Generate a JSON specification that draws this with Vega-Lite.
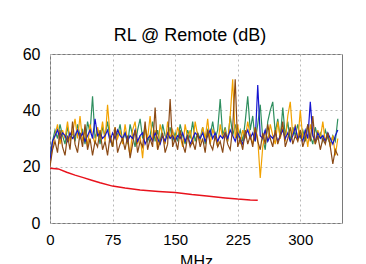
{
  "$schema": "https://vega.github.io/schema/vega-lite/v6.json",
  "width": 292,
  "height": 169,
  "autosize": "none",
  "padding": {"left": 50, "top": 54, "right": 24, "bottom": 41},
  "background": "white",
  "title": {
    "text": "RL @ Remote (dB)",
    "anchor": "middle",
    "dx": -6,
    "dy": 24,
    "offset": 11,
    "baseline": "alphabetic",
    "font": "Liberation Sans",
    "fontSize": 18,
    "fontWeight": "normal",
    "color": "black"
  },
  "datasets": {
    "noisy": [
      {"f":0,"g":24,"o":21,"b":22,"n":20},{"f":3,"g":29,"o":27,"b":29,"n":26},{"f":6,"g":33,"o":31,"b":31,"n":29},{"f":9,"g":30,"o":35,"b":33,"n":25},{"f":12,"g":35,"o":28,"b":30,"n":33},
      {"f":15,"g":31,"o":33,"b":32,"n":27},{"f":18,"g":28,"o":30,"b":31,"n":24},{"f":21,"g":34,"o":36,"b":29,"n":31},{"f":24,"g":30,"o":29,"b":32,"n":26},{"f":27,"g":32,"o":32,"b":30,"n":36},
      {"f":30,"g":29,"o":37,"b":31,"n":28},{"f":33,"g":35,"o":30,"b":33,"n":25},{"f":36,"g":31,"o":38,"b":30,"n":32},{"f":39,"g":33,"o":29,"b":32,"n":27},{"f":42,"g":28,"o":33,"b":29,"n":35},
      {"f":45,"g":36,"o":27,"b":31,"n":26},{"f":48,"g":32,"o":35,"b":33,"n":30},{"f":51,"g":45,"o":31,"b":30,"n":24},{"f":54,"g":30,"o":28,"b":37,"n":29},{"f":57,"g":33,"o":34,"b":31,"n":27},
      {"f":60,"g":28,"o":30,"b":32,"n":33},{"f":63,"g":34,"o":36,"b":30,"n":26},{"f":66,"g":31,"o":29,"b":31,"n":29},{"f":69,"g":36,"o":42,"b":33,"n":24},{"f":72,"g":30,"o":31,"b":29,"n":31},
      {"f":75,"g":27,"o":27,"b":32,"n":27},{"f":78,"g":33,"o":34,"b":30,"n":34},{"f":81,"g":31,"o":30,"b":33,"n":25},{"f":84,"g":35,"o":33,"b":31,"n":28},{"f":87,"g":29,"o":28,"b":30,"n":30},
      {"f":90,"g":32,"o":35,"b":32,"n":26},{"f":93,"g":28,"o":29,"b":29,"n":31},{"f":96,"g":35,"o":24,"b":31,"n":23},{"f":99,"g":31,"o":33,"b":30,"n":28},{"f":102,"g":27,"o":36,"b":33,"n":33},
      {"f":105,"g":33,"o":28,"b":29,"n":25},{"f":108,"g":37,"o":31,"b":31,"n":29},{"f":111,"g":30,"o":23,"b":32,"n":27},{"f":114,"g":34,"o":34,"b":28,"n":36},{"f":117,"g":29,"o":30,"b":30,"n":26},
      {"f":120,"g":31,"o":38,"b":31,"n":30},{"f":123,"g":36,"o":29,"b":29,"n":27},{"f":126,"g":29,"o":33,"b":32,"n":41},{"f":129,"g":33,"o":26,"b":30,"n":26},{"f":132,"g":28,"o":35,"b":28,"n":29},
      {"f":135,"g":35,"o":31,"b":31,"n":32},{"f":138,"g":31,"o":28,"b":29,"n":25},{"f":141,"g":30,"o":36,"b":32,"n":28},{"f":144,"g":34,"o":30,"b":30,"n":44},{"f":147,"g":29,"o":33,"b":31,"n":27},
      {"f":150,"g":32,"o":29,"b":29,"n":30},{"f":153,"g":29,"o":34,"b":31,"n":26},{"f":156,"g":35,"o":31,"b":30,"n":33},{"f":159,"g":31,"o":27,"b":32,"n":28},{"f":162,"g":28,"o":35,"b":29,"n":25},
      {"f":165,"g":33,"o":30,"b":31,"n":31},{"f":168,"g":30,"o":33,"b":28,"n":27},{"f":171,"g":36,"o":28,"b":30,"n":29},{"f":174,"g":29,"o":36,"b":32,"n":26},{"f":177,"g":32,"o":31,"b":31,"n":32},
      {"f":180,"g":30,"o":29,"b":30,"n":27},{"f":183,"g":34,"o":34,"b":32,"n":30},{"f":186,"g":28,"o":30,"b":29,"n":25},{"f":189,"g":33,"o":37,"b":31,"n":33},{"f":192,"g":31,"o":28,"b":33,"n":28},
      {"f":195,"g":36,"o":33,"b":30,"n":26},{"f":198,"g":30,"o":31,"b":32,"n":31},{"f":201,"g":33,"o":27,"b":29,"n":27},{"f":204,"g":44,"o":35,"b":31,"n":29},{"f":207,"g":31,"o":30,"b":30,"n":25},
      {"f":210,"g":34,"o":33,"b":32,"n":32},{"f":213,"g":29,"o":29,"b":30,"n":28},{"f":216,"g":38,"o":38,"b":33,"n":26},{"f":219,"g":31,"o":51,"b":31,"n":34},{"f":222,"g":35,"o":30,"b":29,"n":51},
      {"f":225,"g":30,"o":35,"b":32,"n":27},{"f":228,"g":33,"o":28,"b":30,"n":30},{"f":231,"g":29,"o":33,"b":28,"n":26},{"f":234,"g":36,"o":30,"b":31,"n":33},{"f":237,"g":45,"o":36,"b":33,"n":28},
      {"f":240,"g":33,"o":31,"b":30,"n":31},{"f":243,"g":38,"o":28,"b":32,"n":27},{"f":246,"g":29,"o":34,"b":29,"n":34},{"f":249,"g":35,"o":30,"b":49,"n":29},{"f":252,"g":42,"o":16,"b":31,"n":26},
      {"f":255,"g":30,"o":27,"b":30,"n":32},{"f":258,"g":26,"o":33,"b":33,"n":28},{"f":261,"g":36,"o":29,"b":29,"n":35},{"f":264,"g":40,"o":35,"b":31,"n":30},{"f":267,"g":43,"o":31,"b":30,"n":27},
      {"f":270,"g":32,"o":28,"b":32,"n":33},{"f":273,"g":37,"o":36,"b":29,"n":28},{"f":276,"g":30,"o":30,"b":31,"n":31},{"f":279,"g":41,"o":34,"b":33,"n":36},{"f":282,"g":31,"o":29,"b":30,"n":27},
      {"f":285,"g":36,"o":38,"b":32,"n":30},{"f":288,"g":29,"o":43,"b":29,"n":34},{"f":291,"g":34,"o":31,"b":31,"n":28},{"f":294,"g":31,"o":35,"b":34,"n":31},{"f":297,"g":35,"o":29,"b":30,"n":29},
      {"f":300,"g":30,"o":40,"b":31,"n":33},{"f":303,"g":33,"o":30,"b":29,"n":27},{"f":306,"g":29,"o":33,"b":33,"n":30},{"f":309,"g":35,"o":27,"b":30,"n":35},{"f":312,"g":31,"o":35,"b":43,"n":29},
      {"f":315,"g":28,"o":31,"b":31,"n":38},{"f":318,"g":34,"o":28,"b":29,"n":28},{"f":321,"g":30,"o":33,"b":32,"n":31},{"f":324,"g":32,"o":30,"b":30,"n":26},{"f":327,"g":29,"o":36,"b":31,"n":30},
      {"f":330,"g":33,"o":29,"b":29,"n":28},{"f":333,"g":30,"o":32,"b":32,"n":32},{"f":336,"g":28,"o":27,"b":30,"n":27},{"f":339,"g":31,"o":31,"b":28,"n":21},{"f":342,"g":29,"o":24,"b":31,"n":26},
      {"f":345,"g":37,"o":30,"b":33,"n":24}
    ],
    "limit": [
      {"f":0,"v":19.4},{"f":10,"v":19.2},{"f":20,"v":18.0},{"f":30,"v":17.0},{"f":40,"v":16.1},{"f":50,"v":15.2},
      {"f":60,"v":14.3},{"f":75,"v":13.1},{"f":90,"v":12.4},{"f":108,"v":11.7},{"f":130,"v":11.2},{"f":150,"v":10.8},
      {"f":170,"v":10.1},{"f":188,"v":9.6},{"f":210,"v":8.9},{"f":225,"v":8.5},{"f":240,"v":8.2},{"f":249,"v":8.1}
    ]
  },
  "layer": [
    {
      "data": {"name": "noisy"},
      "transform": [{"fold": ["g", "o", "b", "n"], "as": ["s", "v"]}],
      "mark": {"type": "line", "strokeWidth": 1.2, "clip": true},
      "encoding": {
        "x": {"field": "f", "type": "quantitative", "scale": {"domain": [0, 350], "nice": false}, "title": "MHz",
              "axis": {"values": [0, 75, 150, 225, 300]}},
        "y": {"field": "v", "type": "quantitative", "scale": {"domain": [0, 60], "nice": false}, "title": null,
              "axis": {"values": [0, 10, 20, 30, 40, 50, 60]}},
        "color": {"field": "s", "type": "nominal",
                  "scale": {"domain": ["g", "o", "b", "n"], "range": ["#2f8f5f", "#f2a200", "#1515d0", "#8b4a16"]},
                  "legend": null}
      }
    },
    {
      "data": {"name": "limit"},
      "mark": {"type": "line", "color": "#e8121c", "strokeWidth": 1.5},
      "encoding": {
        "x": {"field": "f", "type": "quantitative"},
        "y": {"field": "v", "type": "quantitative"}
      }
    }
  ],
  "config": {
    "view": {"stroke": "#7a7a7a", "strokeWidth": 1},
    "axis": {
      "domain": false,
      "ticks": false,
      "grid": true,
      "gridColor": "#b8b8b8",
      "gridDash": [2, 3],
      "gridWidth": 1,
      "labelFont": "Liberation Sans",
      "labelColor": "black",
      "labelFlush": false,
      "titleFont": "Liberation Sans",
      "titleColor": "black",
      "titleFontWeight": "normal"
    },
    "axisY": {"labelFontSize": 16, "labelPadding": 10},
    "axisX": {"labelFontSize": 15, "labelPadding": 9, "titleFontSize": 16, "titlePadding": 6}
  }
}
